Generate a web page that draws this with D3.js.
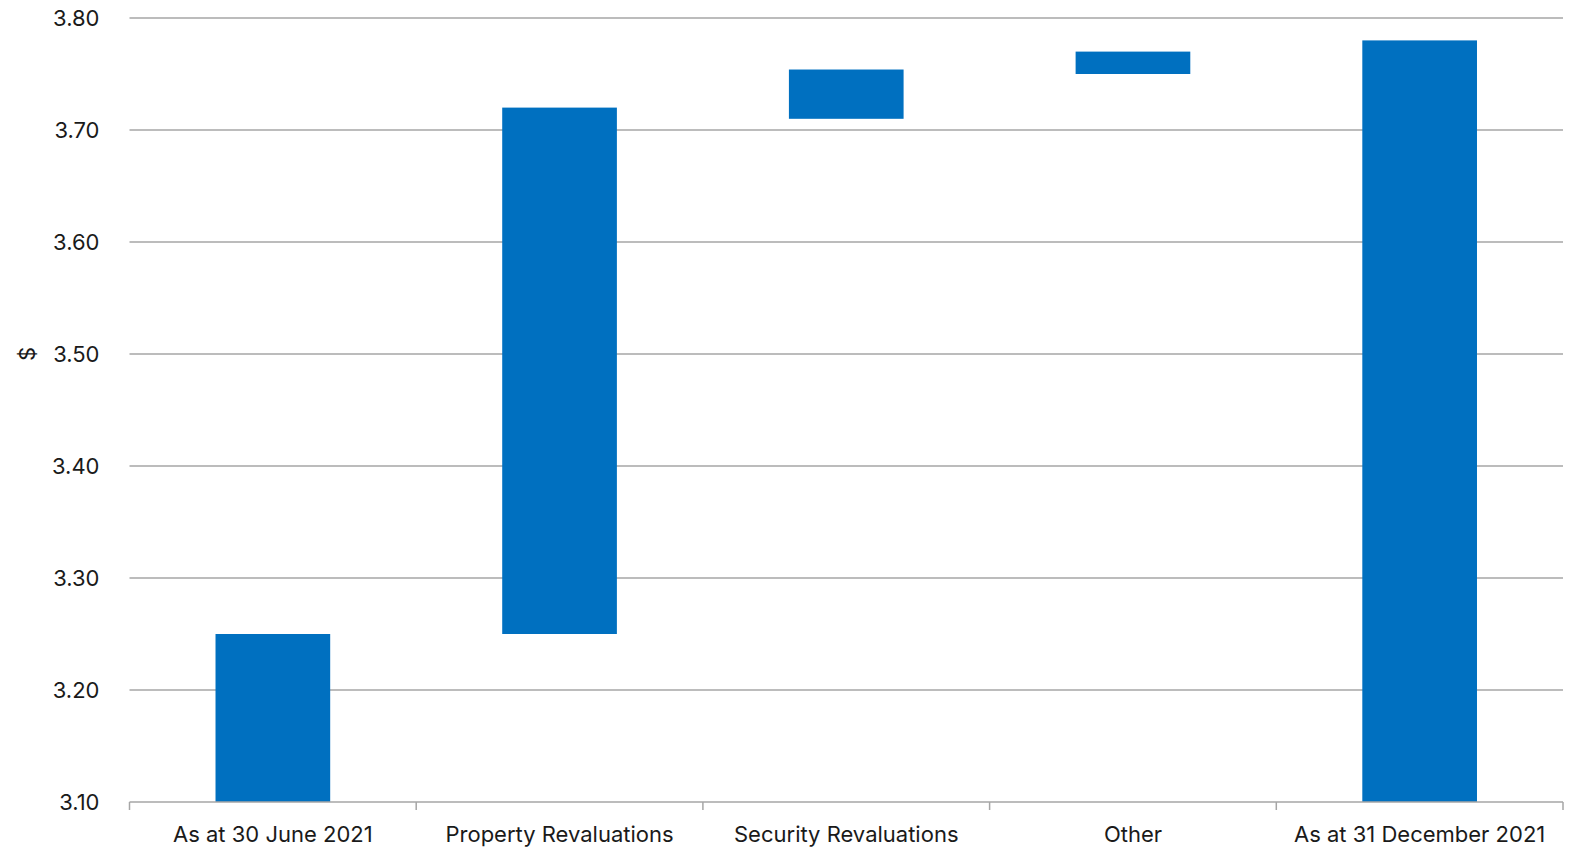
<!DOCTYPE html>
<html>
<head>
<meta charset="utf-8">
<script src="https://cdn.jsdelivr.net/npm/d3@7"></script>
<style>
  body { margin: 0; background: #fff; }
  text { font-family: Inter, "Liberation Sans", sans-serif; fill: #1a1a1a; }
</style>
</head>
<body>
<div id="chart"></div>
<script>
// categories and values (waterfall: start/end of each bar)
var categories = ["As at 30 June 2021", "Property Revaluations", "Security Revaluations", "Other", "As at 31 December 2021"];
var barLow = [3.10, 3.25, 3.71, 3.75, 3.10];
var barHigh = [3.25, 3.72, 3.754, 3.77, 3.78];
var yTicks = [3.10, 3.20, 3.30, 3.40, 3.50, 3.60, 3.70, 3.80];

var data = categories.map(function (c, i) {
    return { name: c, low: barLow[i], high: barHigh[i] };
});

var W = 1575, H = 847;
var margin = { top: 18, right: 12, bottom: 45, left: 129.5 };
var width = W - margin.left - margin.right;
var height = H - margin.top - margin.bottom;

var svg = d3.select("#chart").append("svg")
    .attr("width", W)
    .attr("height", H)
    .append("g")
    .attr("transform", "translate(" + margin.left + "," + margin.top + ")");

var x = d3.scaleBand().domain(categories).range([0, width]).paddingInner(0.6).paddingOuter(0.3);
var y = d3.scaleLinear().domain([3.10, 3.80]).range([height, 0]);

// gridlines
svg.selectAll(".grid")
    .data(yTicks.slice(1))
    .enter().append("line")
    .attr("x1", 0)
    .attr("x2", width)
    .attr("y1", function (d) { return y(d); })
    .attr("y2", function (d) { return y(d); })
    .attr("stroke", "#a6a6a6")
    .attr("stroke-width", 1.5);

// y tick labels
svg.selectAll(".ylab")
    .data(yTicks)
    .enter().append("text")
    .attr("x", -30)
    .attr("y", function (d) { return y(d); })
    .attr("dy", "0.35em")
    .attr("text-anchor", "end")
    .style("font-size", "22px")
    .text(function (d) { return d3.format(".2f")(d); });

// y axis title
svg.append("text")
    .attr("transform", "translate(" + (-102) + "," + y(3.50) + ") rotate(-90)")
    .attr("text-anchor", "middle")
    .attr("dy", "0.35em")
    .style("font-size", "22px")
    .text("$");

// bars
svg.selectAll(".bar")
    .data(data)
    .enter().append("rect")
    .attr("x", function (d) { return x(d.name); })
    .attr("width", x.bandwidth())
    .attr("y", function (d) { return y(d.high); })
    .attr("height", function (d) { return y(d.low) - y(d.high); })
    .attr("fill", "#0070C0");

// x axis baseline with boundary ticks
var step = width / categories.length;
svg.append("line")
    .attr("x1", 0).attr("x2", width)
    .attr("y1", height).attr("y2", height)
    .attr("stroke", "#a6a6a6")
    .attr("stroke-width", 1.5);

svg.selectAll(".xtick")
    .data(d3.range(categories.length + 1))
    .enter().append("line")
    .attr("x1", function (d) { return d * step; })
    .attr("x2", function (d) { return d * step; })
    .attr("y1", height)
    .attr("y2", height + 8)
    .attr("stroke", "#a6a6a6")
    .attr("stroke-width", 1.5);

// x labels
svg.selectAll(".xlab")
    .data(categories)
    .enter().append("text")
    .attr("x", function (d) { return x(d) + x.bandwidth() / 2; })
    .attr("y", height + 40)
    .attr("text-anchor", "middle")
    .style("font-size", "22px")
    .text(function (d) { return d; });
</script>
</body>
</html>
